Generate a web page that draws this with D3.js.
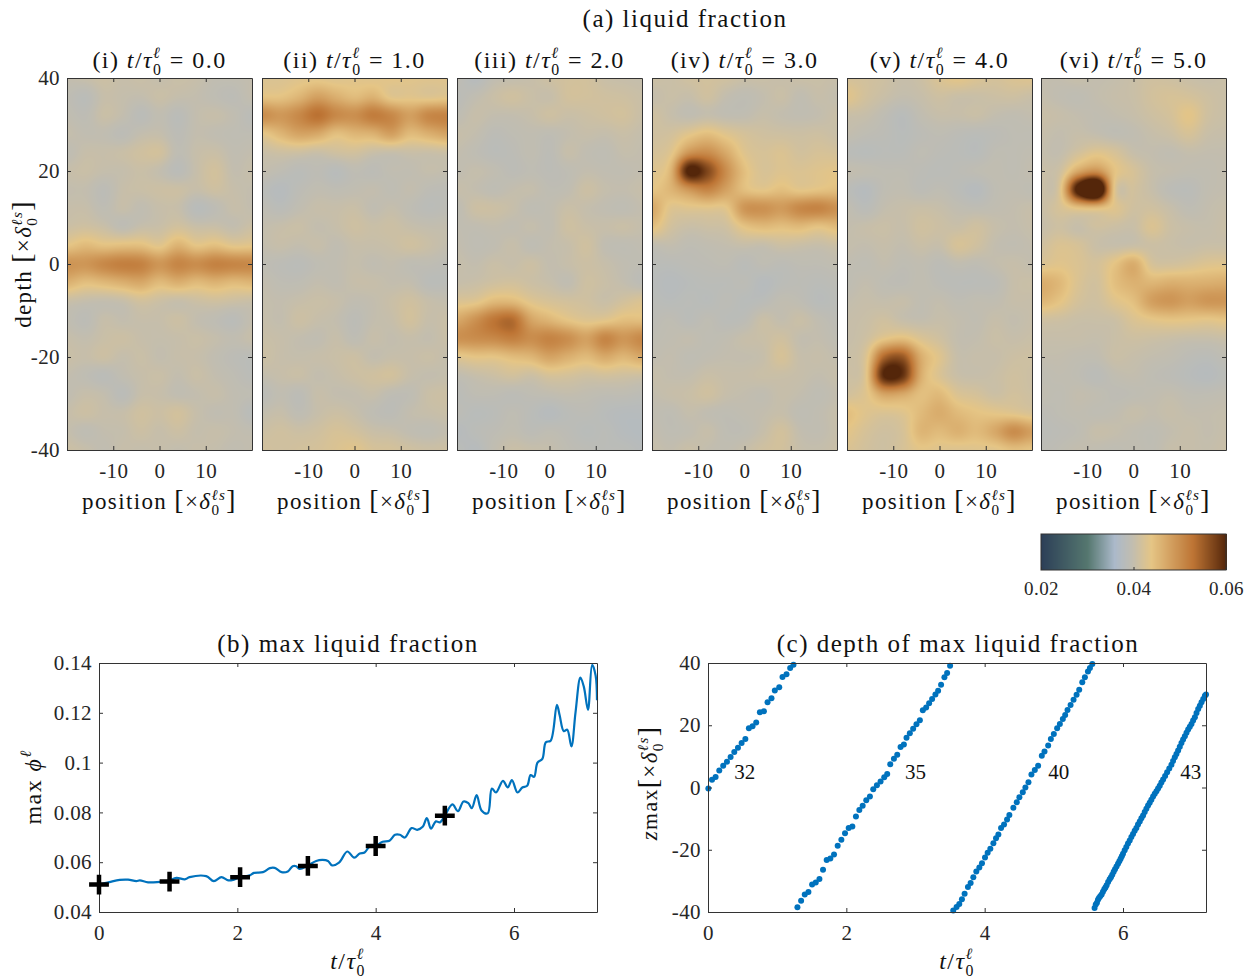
<!DOCTYPE html>
<html lang="en">
<head>
<meta charset="utf-8">
<script src="https://cdn.jsdelivr.net/npm/d3@7"></script>
<style>
  body { margin: 0; background: #fff; }
  svg { display: block; }
  text { font-family: "Liberation Serif", serif; fill: #262626; white-space: pre; }
  .tick text { font-size: 21px; letter-spacing: 0.4px; }
  .domain, .tick line { stroke: #333; }
</style>
</head>
<body>
<svg id="chart" width="1258" height="980"></svg>
<script>
// liquid fraction snapshots, x 1e-4, rows top to bottom
const gridPosition = [-20, -16, -12, -8, -4, 0, 4, 8, 12, 16, 20];
const gridDepth = [40, 36, 32, 28, 24, 20, 16, 12, 8, 4, 0, -4, -8, -12, -16, -20, -24, -28, -32, -36, -40];

const snapshot1 = [
  [398,402,408,402,405,400,405,402,395,395,398],
  [392,385,402,400,398,405,400,398,392,388,398],
  [395,390,405,398,385,395,385,398,402,395,385],
  [400,395,395,388,398,400,388,398,395,392,392],
  [392,402,402,405,412,415,392,402,405,395,398],
  [402,405,400,400,405,398,385,402,415,398,402],
  [398,398,388,402,405,408,408,402,410,402,398],
  [402,402,392,402,395,402,402,382,390,402,398],
  [408,412,405,392,402,405,415,405,405,398,408],
  [438,450,442,445,445,432,458,438,445,432,435],
  [492,490,505,515,512,490,508,500,512,508,505],
  [460,445,452,462,470,450,462,450,458,450,455],
  [405,400,398,402,415,408,402,408,412,408,405],
  [395,388,402,398,402,402,408,398,392,385,398],
  [402,398,405,408,402,400,402,405,400,395,402],
  [405,402,408,400,405,398,402,402,395,388,385],
  [398,392,385,395,402,405,398,405,398,392,385],
  [395,402,398,385,402,402,395,398,402,395,392],
  [402,408,402,402,412,408,415,402,395,395,382],
  [400,392,398,400,408,402,408,400,402,398,395],
  [408,402,395,402,400,402,398,402,400,395,398]
];
const snapshot2 = [
  [425,425,430,432,428,432,430,435,432,430,430],
  [440,440,455,478,462,448,458,432,432,428,432],
  [500,488,505,530,505,498,518,505,480,505,510],
  [435,455,475,470,445,455,460,480,450,462,475],
  [405,410,410,405,412,415,405,402,405,405,408],
  [398,392,385,390,382,392,388,395,395,400,398],
  [385,378,388,395,392,395,398,392,398,390,388],
  [392,385,395,402,402,405,395,400,392,385,388],
  [398,402,405,398,402,410,405,408,402,398,398],
  [398,402,398,402,395,402,402,405,412,405,398],
  [392,388,385,392,395,400,395,398,392,392,388],
  [398,392,392,398,395,402,402,398,398,385,385],
  [400,398,402,405,402,395,398,405,412,402,398],
  [402,398,408,402,398,388,398,402,415,402,405],
  [405,402,398,395,402,392,402,398,402,398,405],
  [408,402,400,402,405,408,398,402,402,405,400],
  [398,402,405,398,402,408,412,415,402,398,400],
  [385,395,388,402,398,398,402,392,392,405,408],
  [398,402,392,402,408,402,392,388,398,402,405],
  [408,412,408,412,420,415,405,402,395,392,398],
  [415,412,415,418,425,432,420,418,412,408,410]
];
const snapshot3 = [
  [392,378,395,398,402,410,415,415,405,402,400],
  [385,395,405,412,405,402,415,415,412,410,405],
  [392,402,398,398,402,410,405,408,412,415,405],
  [402,398,388,392,395,392,398,402,400,405,400],
  [398,392,385,388,395,388,402,395,392,400,398],
  [395,400,395,388,392,388,392,398,395,395,398],
  [402,398,392,398,400,392,395,408,400,398,402],
  [392,408,408,402,392,395,405,400,395,392,398],
  [395,395,398,395,400,395,410,405,402,405,400],
  [398,392,395,402,392,398,402,412,395,392,395],
  [402,398,405,402,408,398,402,408,402,395,392],
  [402,405,412,415,408,402,395,410,405,398,388],
  [425,430,450,450,430,420,415,412,405,415,425],
  [470,495,525,535,475,455,438,428,432,445,445],
  [495,500,505,515,500,510,498,478,508,490,505],
  [430,438,438,448,455,475,462,450,468,455,470],
  [395,402,408,415,408,420,418,412,415,412,410],
  [385,392,392,388,392,395,398,395,392,392,388],
  [388,382,385,392,385,378,385,388,382,378,378],
  [378,385,390,395,388,392,388,382,385,378,375],
  [385,378,395,405,402,400,392,388,385,385,380]
];
const snapshot4 = [
  [408,405,412,415,412,405,405,402,405,405,402],
  [400,405,402,412,398,392,398,405,395,402,398],
  [412,402,395,400,395,395,402,398,395,398,405],
  [412,415,432,445,430,418,412,410,408,410,405],
  [418,430,490,500,468,430,420,425,415,420,418],
  [428,455,610,570,500,445,422,428,425,430,435],
  [438,455,490,510,478,445,435,445,435,440,445],
  [470,430,430,432,435,490,495,485,505,510,495],
  [445,415,405,408,412,440,450,445,450,440,450],
  [395,398,392,395,398,402,400,408,405,402,408],
  [385,385,388,390,392,385,392,388,392,392,395],
  [382,378,382,385,385,388,378,385,388,385,388],
  [385,382,385,382,388,382,385,395,392,382,385],
  [388,392,385,392,385,388,405,398,405,395,388],
  [392,395,398,392,395,402,405,412,398,398,392],
  [395,398,392,395,398,398,402,420,402,402,398],
  [402,398,398,405,402,402,405,405,402,398,402],
  [398,402,405,412,402,398,395,402,398,392,398],
  [395,392,400,395,392,395,398,402,392,395,402],
  [398,392,395,402,392,392,402,415,398,395,402],
  [402,398,405,398,395,402,412,415,402,400,405]
];
const snapshot5 = [
  [418,415,410,402,408,425,435,425,418,425,428],
  [432,415,405,398,402,410,405,405,408,410,405],
  [405,402,392,382,395,402,402,405,398,395,398],
  [398,392,388,382,388,392,388,385,388,392,392],
  [385,382,385,385,392,388,385,382,392,392,395],
  [398,395,392,392,388,385,388,392,395,392,398],
  [385,378,392,395,388,392,385,378,392,395,392],
  [395,385,398,402,405,402,395,392,395,398,402],
  [398,402,405,402,412,408,405,412,402,398,402],
  [400,398,402,398,405,402,420,412,398,395,398],
  [395,392,398,392,395,388,395,392,398,402,398],
  [392,398,392,390,395,388,385,385,388,402,405],
  [398,402,400,402,395,398,392,395,395,402,402],
  [402,405,412,402,398,402,398,395,402,398,402],
  [402,410,435,445,425,412,398,398,405,402,405],
  [405,425,540,555,465,430,402,402,402,408,410],
  [408,430,600,590,465,425,405,402,405,412,408],
  [415,430,475,470,445,450,425,418,408,415,410],
  [445,430,425,430,450,465,450,440,435,430,422],
  [435,420,412,420,455,450,460,450,470,500,480],
  [425,415,410,420,435,430,428,430,432,445,440]
];
const snapshot6 = [
  [398,398,402,398,400,405,412,410,405,402,405],
  [400,395,392,398,402,405,415,420,418,410,405],
  [405,402,398,395,398,402,410,418,435,412,405],
  [402,398,402,398,392,395,402,408,420,405,402],
  [400,398,415,430,420,402,398,395,400,398,398],
  [405,410,470,495,440,420,402,398,395,395,398],
  [405,425,620,690,430,415,402,388,385,395,398],
  [405,420,440,445,430,412,412,402,392,398,402],
  [402,410,402,412,408,405,425,408,402,400,405],
  [412,425,420,405,402,405,408,405,402,405,405],
  [425,432,425,418,440,465,420,415,420,428,430],
  [465,452,425,415,445,460,455,462,460,462,465],
  [455,440,418,412,430,445,480,490,480,490,490],
  [412,410,405,405,408,425,435,440,438,435,440],
  [402,402,402,400,405,410,408,405,402,402,405],
  [398,398,395,395,405,402,398,395,388,385,392],
  [392,395,392,385,395,398,392,388,382,378,385],
  [395,392,398,395,390,392,395,398,392,392,395],
  [388,392,395,392,395,402,398,402,398,398,400],
  [385,388,392,402,400,395,392,398,402,398,402],
  [388,392,398,395,392,395,392,402,402,400,405]
];
const snapshots = [snapshot1, snapshot2, snapshot3, snapshot4, snapshot5, snapshot6];
const snapshotLabels = ["(i)", "(ii)", "(iii)", "(iv)", "(v)", "(vi)"];
const snapshotTimes = ["0.0", "1.0", "2.0", "3.0", "4.0", "5.0"];

const colorValues = [200, 300, 358, 396, 438, 528, 600];
const colorStops = ["#2c3f57", "#55776f", "#abb9ca", "#c1bdb0", "#e5c585", "#bd7434", "#54260a"];

// (b) max liquid fraction
const timeMax = [0,.15,.3,.42,.54,.59,.71,.88,1,1.12,1.24,1.31,1.55,1.66,1.77,1.87,1.94,2.04,2.18,2.24,2.37,2.47,2.54,2.64,2.73,2.8,2.85,2.9,3.02,3.14,3.23,3.31,3.37,3.47,3.59,3.69,3.77,3.84,3.91,4,4.1,4.2,4.28,4.35,4.42,4.52,4.6,4.68,4.74,4.8,4.87,4.93,5,5.11,5.19,5.27,5.34,5.39,5.46,5.53,5.62,5.68,5.74,5.84,5.91,5.97,6.05,6.12,6.19,6.24,6.29,6.34,6.41,6.46,6.53,6.62,6.66,6.72,6.77,6.83,6.89,6.96,7.01,7.07,7.13,7.18,7.2];
const phiMax = [.051,.052,.0529,.053,.0524,.0527,.0519,.0521,.0524,.0537,.0531,.054,.0544,.0524,.054,.0527,.0529,.054,.0547,.0557,.056,.0576,.0577,.056,.0563,.0584,.0584,.0573,.0587,.0605,.0609,.0605,.0587,.0598,.0643,.0618,.0635,.0639,.0662,.0666,.0682,.0686,.071,.071,.0699,.0737,.073,.0742,.0777,.0735,.0764,.076,.0787,.0832,.0805,.0844,.0837,.0817,.0869,.0808,.0796,.0896,.088,.0927,.09,.093,.088,.09,.0907,.095,.0943,.1,.1015,.1082,.1088,.1232,.119,.1126,.1132,.1065,.1203,.1341,.1304,.1212,.1393,.135,.125];
const markerTime = [0, 1.02, 2.04, 3.02, 4, 5];
const markerPhi = [.051, .0522, .054, .0585, .0665, .0787];

// (c) depth of max liquid fraction, one array pair per pass
const time32 = [.005,.058,.11,.163,.22,.274,.327,.38,.433,.486,.54,.591,.644,.697,.75,.808,.861,.918,.966,1.03,1.077,1.135,1.188,1.236];
const depth32 = [-.3,2.5,3.4,5.5,7,8.3,9.8,11.4,12.8,14.3,15.6,19,19.7,20.9,24.2,24.5,27.4,28.7,31.2,32.2,35.5,36.4,38.4,39.4];
const time35 = [1.293,1.346,1.399,1.452,1.505,1.558,1.611,1.663,1.716,1.769,1.822,1.875,1.928,1.981,2.034,2.087,2.139,2.188,2.236,2.288,2.341,2.389,2.442,2.495,2.548,2.591,2.635,2.688,2.736,2.784,2.832,2.87,2.918,2.966,3.014,3.063,3.106,3.154,3.197,3.24,3.288,3.327,3.37,3.418,3.457,3.5];
const depth35 = [-38.5,-36.4,-34.4,-33.6,-31.2,-30.5,-29.4,-26.4,-23.3,-22.8,-21.5,-18.7,-16.8,-14.7,-13,-12.5,-9.3,-7.2,-5.9,-4.1,-2.9,-.6,.7,1.9,3.3,4.3,7.5,9.2,10.5,13,13.8,16,17.4,18.9,20.3,21.6,24.8,25.7,27.1,28.4,29.9,31.1,33,35.4,36.8,39.1];
const time40 = [3.546,3.594,3.633,3.671,3.71,3.758,3.797,3.836,3.879,3.923,3.961,4.005,4.043,4.082,4.126,4.164,4.198,4.237,4.28,4.324,4.357,4.415,4.464,4.502,4.551,4.589,4.633,4.676,4.725,4.773,4.826,4.865,4.918,4.957,5,5.048,5.087,5.13,5.164,5.198,5.242,5.285,5.329,5.367,5.411,5.449,5.493,5.522,5.556];
const depth40 = [-39.5,-38.4,-37.4,-35.9,-34.1,-32,-30.7,-28.8,-27,-25.7,-24.3,-22.5,-21,-19.7,-17.9,-16.3,-15.1,-13,-11.9,-10.3,-8.8,-6.5,-4.7,-3.1,-1.5,0,1.7,4.2,5.6,7,10.2,11.6,13.5,15.6,17.2,19,20.4,22,23.3,24.9,26.5,28.2,29.8,31.4,33.8,35.4,37.3,38.4,39.7];
const time43 = [5.589,5.606,5.623,5.638,5.652,5.671,5.691,5.71,5.729,5.746,5.763,5.785,5.807,5.826,5.845,5.865,5.884,5.906,5.928,5.947,5.966,5.983,6,6.024,6.048,6.072,6.097,6.121,6.145,6.169,6.193,6.217,6.242,6.266,6.29,6.314,6.338,6.362,6.386,6.41,6.435,6.459,6.483,6.507,6.531,6.555,6.58,6.609,6.638,6.669,6.7,6.724,6.749,6.773,6.797,6.821,6.845,6.869,6.894,6.918,6.942,6.966,6.99,7.014,7.039,7.063,7.087,7.111,7.135,7.16,7.184,7.2];
const depth43 = [-38.7,-37.6,-37,-36.1,-35.5,-34.9,-34.4,-33.5,-32.7,-32.1,-31.4,-30.4,-29.5,-28.8,-28,-27.1,-26.3,-25.4,-24.5,-23.7,-22.9,-22.1,-21.3,-20.2,-19.1,-18,-17,-15.9,-14.9,-13.9,-13,-11.9,-10.9,-9.9,-9,-7.9,-6.8,-5.8,-4.9,-3.9,-2.9,-2,-1.2,-.3,.6,1.6,2.6,3.7,4.9,6.1,7.3,8.5,9.7,10.8,11.9,13.1,14.3,15.4,16.5,17.6,18.6,19.5,20.4,21.5,22.6,23.9,25.2,26.3,27.4,28.4,29.5,29.9];
const passTimes = [time32, time35, time40, time43];
const passDepths = [depth32, depth35, depth40, depth43];
const passLabels = ["32", "35", "40", "43"];
const passLabelTime = [.53, 3.0, 5.07, 6.98];
const passLabelDepth = [5, 5, 5, 5];

const svg = d3.select("#chart");
const color = d3.scaleLinear().domain(colorValues).range(colorStops).clamp(true);

// label made of pieces, each { t, i, sub, sup, size }; centred on x
function mathLabel(x, y, parts, size, rotate) {
  const g = svg.append("g")
    .attr("transform", `translate(${x},${y})` + (rotate ? " rotate(-90)" : ""));
  const spacing = 0.06 * size;
  let pos = 0;
  const place = (str, px, py, fs, italic) => {
    const t = g.append("text")
      .attr("x", px).attr("y", py)
      .attr("font-size", fs)
      .attr("letter-spacing", spacing)
      .attr("font-style", italic ? "italic" : null)
      .style("fill", "#111")
      .text(str);
    return t.node().getComputedTextLength();
  };
  parts.forEach(p => {
    const fs = size * (p.size || 1);
    pos += place(p.t, pos, 0, fs, p.i);
    if (p.sub || p.sup) {
      const w1 = p.sub ? place(p.sub, pos, size * 0.28, size * 0.66, false) : 0;
      const w2 = p.sup ? place(p.sup, pos, -size * 0.4, size * 0.66, true) : 0;
      pos += Math.max(w1, w2);
    }
  });
  g.selectAll("text").attr("dx", -pos / 2);
}

function drawFrame(x, y, xTicks, yTicks, showY, padX) {
  const [x0, x1] = x.range();
  const [y0, y1] = y.range();
  svg.append("g").attr("transform", `translate(0,${y0})`)
    .call(d3.axisBottom(x).tickValues(xTicks).tickSize(-4).tickSizeOuter(0).tickPadding(padX).tickFormat(String));
  svg.append("g").attr("transform", `translate(0,${y1})`)
    .call(d3.axisTop(x).tickValues(xTicks).tickSize(-4).tickSizeOuter(0).tickFormat(""));
  const left = svg.append("g").attr("transform", `translate(${x0},0)`)
    .call(d3.axisLeft(y).tickValues(yTicks).tickSize(-4).tickSizeOuter(0).tickPadding(7).tickFormat(String));
  if (!showY) left.selectAll(".tick text").remove();
  svg.append("g").attr("transform", `translate(${x1},0)`)
    .call(d3.axisRight(y).tickValues(yTicks).tickSize(-4).tickSizeOuter(0).tickFormat(""));
}

// smooth lookup between grid nodes, like shading interp in the original
function catmull(a, b, c, d, u) {
  return b + 0.5 * u * (c - a + u * (2 * a - 5 * b + 4 * c - d + u * (3 * (b - c) + d - a)));
}
function sampleGrid(grid, col, row) {
  const cols = gridPosition.length, rows = gridDepth.length;
  const c0 = Math.min(Math.floor(col), cols - 2), r0 = Math.min(Math.floor(row), rows - 2);
  const cu = col - c0, ru = row - r0;
  const at = (r, c) => grid[Math.max(0, Math.min(rows - 1, r))][Math.max(0, Math.min(cols - 1, c))];
  const line = r => catmull(at(r, c0 - 1), at(r, c0), at(r, c0 + 1), at(r, c0 + 2), cu);
  return catmull(line(r0 - 1), line(r0), line(r0 + 1), line(r0 + 2), ru);
}

// (a) snapshots
const panelLeft = [67, 262, 457, 652, 847, 1041];
const panelWidth = 185;
const panelTop = 78, panelBottom = 450;
const colIndex = d3.scaleLinear().domain([-20, 20]).range([0, gridPosition.length - 1]);
const rowIndex = d3.scaleLinear().domain([40, -40]).range([0, gridDepth.length - 1]);

mathLabel(685, 27, [{ t: "(a) liquid fraction" }], 25);

snapshots.forEach((grid, k) => {
  const left = panelLeft[k];
  const x = d3.scaleLinear().domain([-20, 20]).range([left, left + panelWidth]);
  const y = d3.scaleLinear().domain([-40, 40]).range([panelBottom, panelTop]);

  const canvas = document.createElement("canvas");
  canvas.width = panelWidth;
  canvas.height = panelBottom - panelTop;
  const ctx = canvas.getContext("2d");
  for (let py = 0; py < canvas.height; py++) {
    for (let px = 0; px < canvas.width; px++) {
      const pos = x.invert(left + px + 0.5), dep = y.invert(panelTop + py + 0.5);
      ctx.fillStyle = color(sampleGrid(grid, colIndex(pos), rowIndex(dep)));
      ctx.fillRect(px, py, 1, 1);
    }
  }
  svg.append("image")
    .attr("x", left).attr("y", panelTop)
    .attr("width", canvas.width).attr("height", canvas.height)
    .attr("href", canvas.toDataURL());

  drawFrame(x, y, [-10, 0, 10], [-40, -20, 0, 20, 40], k === 0, 13);

  mathLabel(left + panelWidth / 2, 68, [
    { t: snapshotLabels[k] + " " }, { t: "t", i: 1 }, { t: "/" }, { t: "τ", i: 1, sub: "0", sup: "ℓ" },
    { t: " = " + snapshotTimes[k] }
  ], 24);
  mathLabel(left + panelWidth / 2, 509, [
    { t: "position " }, { t: "[", size: 1.2 }, { t: "×" }, { t: "δ", i: 1, sub: "0", sup: "ℓs" }, { t: "]", size: 1.2 }
  ], 23);
});
mathLabel(31, 264, [
  { t: "depth " }, { t: "[", size: 1.2 }, { t: "×" }, { t: "δ", i: 1, sub: "0", sup: "ℓs" }, { t: "]", size: 1.2 }
], 23, true);

// colour bar
const barX = d3.scaleLinear().domain([200, 600]).range([1041, 1226]);
const barCells = d3.range(200, 600, 400 / 185);
svg.append("g").selectAll("rect").data(barCells).join("rect")
  .attr("x", d => barX(d)).attr("y", 534)
  .attr("width", 2).attr("height", 36)
  .attr("shape-rendering", "crispEdges")
  .attr("fill", d => color(d));
svg.append("rect").attr("x", 1041).attr("y", 534).attr("width", 185).attr("height", 36)
  .attr("fill", "none").attr("stroke", "#333");
svg.append("g").attr("transform", "translate(0,570)")
  .call(d3.axisBottom(barX).tickValues([200, 400, 600]).tickSize(-3).tickSizeOuter(0).tickPadding(12)
    .tickFormat(d => (d / 10000).toFixed(2)))
  .call(g => g.select(".domain").remove())
  .call(g => g.selectAll(".tick text").style("font-size", "19px"));

// (b)
const xB = d3.scaleLinear().domain([0, 7.2]).range([99, 597]);
const yB = d3.scaleLinear().domain([.04, .14]).range([912, 663]);
const lineB = d3.line().x((d, i) => xB(timeMax[i])).y(d => yB(d)).curve(d3.curveCatmullRom.alpha(0.5));
svg.append("path").datum(phiMax)
  .attr("d", lineB).attr("fill", "none").attr("stroke", "#0072bd").attr("stroke-width", 2.2);
drawFrame(xB, yB, [0, 2, 4, 6], [.04, .06, .08, .1, .12, .14], true, 13);
svg.append("g").selectAll("path").data(markerPhi).join("path")
  .attr("transform", (d, i) => `translate(${xB(markerTime[i])},${yB(d)})`)
  .attr("d", d3.symbol(d3.symbolPlus, 130))
  .attr("fill", "none").attr("stroke", "#000").attr("stroke-width", 4.5);
mathLabel(348, 652, [{ t: "(b) max liquid fraction" }], 25);
mathLabel(348, 969, [{ t: "t", i: 1 }, { t: "/" }, { t: "τ", i: 1, sub: "0", sup: "ℓ" }], 24);
mathLabel(41, 787, [{ t: "max " }, { t: "ϕ", i: 1, sup: "ℓ" }], 24, true);

// (c)
const xC = d3.scaleLinear().domain([0, 7.2]).range([708, 1206]);
const yC = d3.scaleLinear().domain([-40, 40]).range([912, 663]);
passTimes.forEach((times, k) => {
  svg.append("g").selectAll("circle").data(passDepths[k]).join("circle")
    .attr("cx", (d, i) => xC(times[i])).attr("cy", d => yC(d))
    .attr("r", 3).attr("fill", "#0072bd");
  svg.append("text")
    .attr("x", xC(passLabelTime[k])).attr("y", yC(passLabelDepth[k]))
    .attr("text-anchor", "middle").attr("font-size", 21).attr("dy", "0.35em")
    .style("fill", "#111")
    .text(passLabels[k]);
});
drawFrame(xC, yC, [0, 2, 4, 6], [-40, -20, 0, 20, 40], true, 13);
mathLabel(958, 652, [{ t: "(c) depth of max liquid fraction" }], 25);
mathLabel(957, 969, [{ t: "t", i: 1 }, { t: "/" }, { t: "τ", i: 1, sub: "0", sup: "ℓ" }], 24);
mathLabel(657, 783, [
  { t: "z", i: 1 }, { t: "max", size: 0.95 }, { t: "[", size: 1.2 }, { t: "×" }, { t: "δ", i: 1, sub: "0", sup: "ℓs" }, { t: "]", size: 1.2 }
], 23, true);
</script>
</body>
</html>
